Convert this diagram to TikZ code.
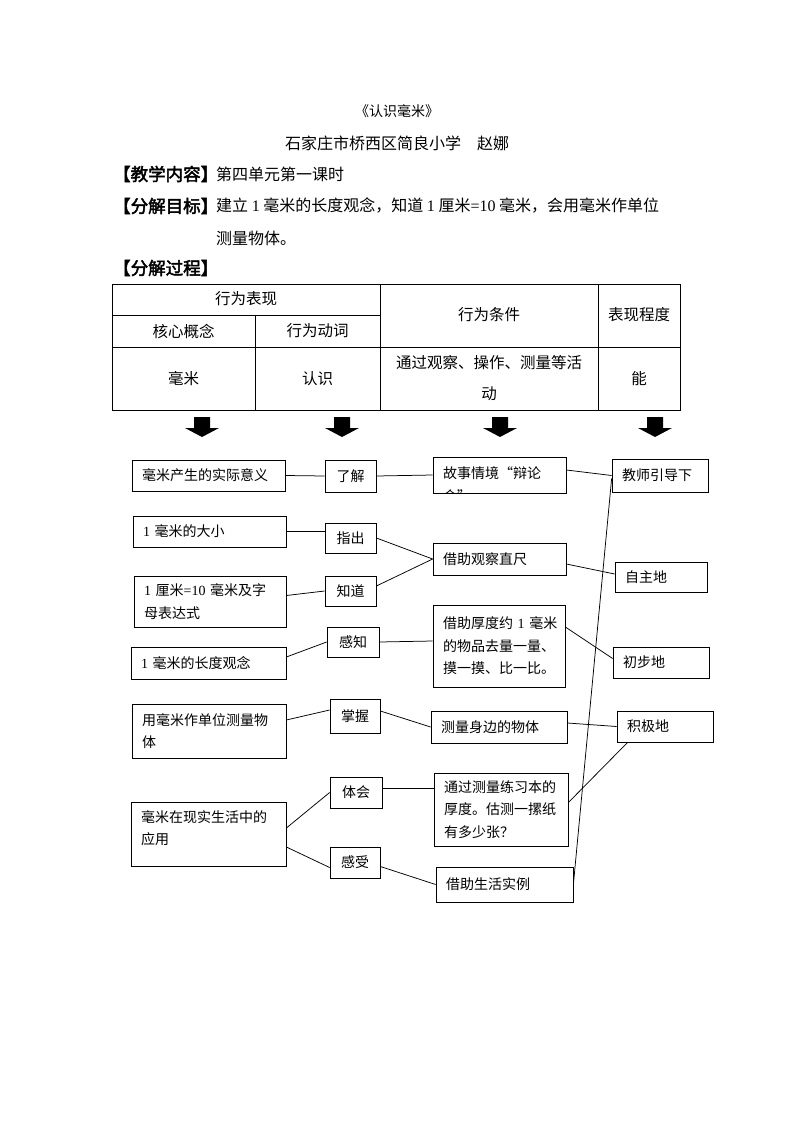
\documentclass[tikz,border=0pt]{standalone}
\usepackage{fontspec}
\setmainfont{Noto Sans CJK SC}
\newfontfamily\cjkb[FakeBold=2.5]{Noto Sans CJK SC}
\newfontfamily\lat{Liberation Serif}
\tikzset{
  box/.style={draw, line width=0.75pt, inner xsep=10pt, inner ysep=0pt, align=left,
    font=\fontsize{14}{22.5}\selectfont},
  vbox/.style={box, align=center},
  txt/.style={inner sep=0pt, align=left, font=\fontsize{14}{22.5}\selectfont},
  tbl/.style={inner sep=0pt, align=center, font=\fontsize{15.5}{31}\selectfont},
  head/.style={inner sep=0pt, anchor=west, font=\fontsize{16}{20}\selectfont},
  lab/.style={inner sep=0pt, anchor=west, font=\cjkb\fontsize{17.5}{20}\selectfont},
  conn/.style={line width=0.75pt},
  rule/.style={line width=0.75pt}
}
\newcommand{\blockarrow}[1]{\fill ({#1-8},417) -- ({#1+8},417) -- ({#1+8},428) -- ({#1+17},428) -- (#1,437) -- ({#1-17},428) -- ({#1-8},428) -- cycle;}
\begin{document}
\begin{tikzpicture}[x=1pt,y=-1pt]
\useasboundingbox[fill=white] (0,0) rectangle (794,1123);

% headings
\node[inner sep=0pt, font=\fontsize{14}{18}\selectfont] (title) at (397,111) {《认识毫米》};
\node[inner sep=0pt, font=\fontsize{16}{20}\selectfont] (author) at (397,143) {石家庄市桥西区简良小学　赵娜};
\node[lab] (k1) at (113,174) {【教学内容】};
\node[head] (b1) at (216,174) {第四单元第一课时};
\node[lab] (k2) at (113,206) {【分解目标】};
\node[head] (b2) at (216,206) {建立 {\lat 1} 毫米的长度观念，知道 {\lat 1} 厘米{\lat =10} 毫米，会用毫米作单位};
\node[head] (b3) at (216,238) {测量物体。};
\node[lab] (k3) at (113,268) {【分解过程】};

% table
\draw[rule] (112,284) rectangle (680,410);
\draw[rule] (112,315) -- (380,315);
\draw[rule] (112,347) -- (680,347);
\draw[rule] (255,315) -- (255,410);
\draw[rule] (380,284) -- (380,410);
\draw[rule] (598,284) -- (598,410);
\node[tbl] (t1) at (246,299) {行为表现};
\node[tbl] (t2) at (183.5,331) {核心概念};
\node[tbl] (t3) at (317.5,331) {行为动词};
\node[tbl] (t4) at (489,315) {行为条件};
\node[tbl] (t5) at (639,315) {表现程度};
\node[tbl] (t6) at (183.5,379) {毫米};
\node[tbl] (t7) at (317.5,379) {认识};
\node[tbl] (t8) at (489,378.5) {通过观察、操作、测量等活\\动};
\node[tbl] (t9) at (639,379) {能};

% block arrows
\blockarrow{202}
\blockarrow{342}
\blockarrow{500}
\blockarrow{655}

% left column
\node[box, minimum width=153pt, minimum height=31pt, text width=133pt] (L1) at (208.5,475.5) {毫米产生的实际意义};
\node[box, minimum width=153pt, minimum height=31pt, text width=133pt] (L2) at (209.5,531.5) {{\lat 1} 毫米的大小};
\node[box, minimum width=152pt, minimum height=51pt, text width=132pt] (L3) at (210,601.5) {{\lat 1} 厘米{\lat =10} 毫米及字\\母表达式};
\node[box, minimum width=155pt, minimum height=32pt, text width=135pt] (L4) at (208.5,663) {{\lat 1} 毫米的长度观念};
\node[box, minimum width=154pt, minimum height=54pt, text width=134pt] (L5) at (209,731) {用毫米作单位测量物\\体};
\node[box, minimum width=155pt, minimum height=64pt, text width=135pt] (L6) at (208.5,834) {};
\node[txt, anchor=west, text width=135pt] (L6t) at (141,828) {毫米在现实生活中的\\应用};

% verbs
\node[vbox, minimum width=51pt, minimum height=32pt, text width=31pt] (V1) at (350.5,476) {了解};
\node[vbox, minimum width=51pt, minimum height=30pt, text width=31pt] (V2) at (350.5,538) {指出};
\node[vbox, minimum width=51pt, minimum height=30pt, text width=31pt] (V3) at (350.5,591) {知道};
\node[vbox, minimum width=52pt, minimum height=30pt, text width=32pt] (V4) at (353,642) {感知};
\node[vbox, minimum width=50pt, minimum height=34pt, text width=30pt] (V5) at (355,716) {掌握};
\node[vbox, minimum width=52pt, minimum height=31pt, text width=32pt] (V6) at (356,792.5) {体会};
\node[vbox, minimum width=50pt, minimum height=31pt, text width=30pt] (V7) at (355,862.5) {感受};

% conditions
\node[box, minimum width=133pt, minimum height=36pt, text width=113pt] (C1) at (499.5,475) {};
\begin{scope}
  \clip (C1.south west) rectangle (C1.north east);
  \node[txt, anchor=west, text width=120pt] (C1t) at (443,484.5) {故事情境“辩论\\会”};
\end{scope}
\node[box, minimum width=133pt, minimum height=32pt, text width=113pt] (C2) at (499.5,559) {借助观察直尺};
\node[box, minimum width=132pt, minimum height=82pt, text width=112pt] (C3) at (499,646) {\mbox{借助厚度约 {\lat 1} 毫米}\\的物品去量一量、\\摸一摸、比一比。};
\node[box, minimum width=136pt, minimum height=32pt, text width=116pt] (C4) at (499,727) {测量身边的物体};
\node[box, minimum width=134pt, minimum height=73pt, text width=114pt] (C5) at (501,809.5) {通过测量练习本的\\厚度。估测一摞纸\\有多少张？};
\node[box, minimum width=137pt, minimum height=35pt, text width=117pt] (C6) at (504.5,884.5) {借助生活实例};

% degrees
\node[box, minimum width=96pt, minimum height=33pt, text width=76pt] (D1) at (660,475.5) {教师引导下};
\node[box, minimum width=92pt, minimum height=30pt, text width=72pt] (D2) at (661,577) {自主地};
\node[box, minimum width=96pt, minimum height=31pt, text width=76pt] (D3) at (661,662.5) {初步地};
\node[box, minimum width=96pt, minimum height=31pt, text width=76pt] (D4) at (665,726.5) {积极地};

% connectors
\draw[conn] (L1.east) -- (V1.west);
\draw[conn] (V1.east) -- (C1.west);
\draw[conn] (L2.east) -- (L2.east -| V2.west);
\draw[conn] (V2.east) -- (C2.west);
\draw[conn] ([yshift=6pt]L3.east) -- (V3.west);
\draw[conn] ([yshift=5pt]V3.east) -- (C2.west);
\draw[conn] ([yshift=6pt]L4.east) -- (V4.west);
\draw[conn] (V4.east) -- ([yshift=5pt]C3.west);
\draw[conn] ([yshift=11pt]L5.east) -- ([yshift=6pt]V5.west);
\draw[conn] ([yshift=5pt]V5.east) -- (C4.west);
\draw[conn] ([yshift=6pt]L6.east) -- (V6.west);
\draw[conn] ([yshift=-13pt]L6.east) -- ([yshift=-5pt]V7.west);
\draw[conn] ([yshift=4pt]V6.east) -- ([yshift=4pt]V6.east -| C5.west);
\draw[conn] ([yshift=-4pt]V7.east) -- (C6.west);
\draw[conn] ([yshift=5pt]C1.east) -- (D1.west);
\draw[conn] ([yshift=-5pt]C2.east) -- ([yshift=3pt]D2.west);
\draw[conn] ([yshift=19pt]C3.east) -- ([yshift=4pt]D3.west);
\draw[conn] ([yshift=4pt]C4.east) -- (D4.west);
\draw[conn] ([yshift=7pt]C5.east) -- ([xshift=11pt]D4.south west);
\draw[conn] ([yshift=-3pt]D1.west) -- (C6.east);
\end{tikzpicture}
\end{document}
